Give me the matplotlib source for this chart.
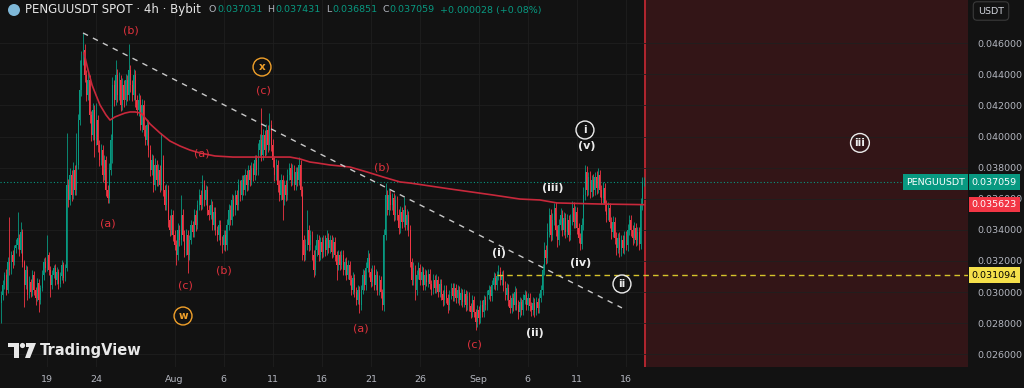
import numpy as np
import pandas as pd
import matplotlib
matplotlib.use('Agg')
import matplotlib.pyplot as plt
from matplotlib.transforms import blended_transform_factory
from matplotlib.patches import Polygon, Circle

# 4h candles, prices in 1e-5 USDT, open = previous close
first_open = 2930
closes = [
    2981, 3045, 3110, 3013, 3193, 3142, 3238, 3193, 3283, 3303,
    3348, 3270, 3386, 3193, 3045, 3142, 2981, 3065, 3000, 3110,
    3013, 2962, 3058, 2949, 3026, 3110, 3193, 3155, 3238, 3142,
    3045, 3110, 3155, 3078, 3129, 3052, 3103, 3174, 3091, 3155,
    3688, 3592, 3753, 3624, 3785, 3656, 3817, 4106, 4299, 4492, 4556,
    4396, 4267, 4364, 4139, 4010, 4171, 3978, 4106, 3946, 3849,
    3913, 3753, 3849, 3656, 3605, 3785, 3978, 4331, 4235, 4396,
    4267, 4364, 4203, 4331, 4235, 4364, 4267, 4428, 4331,
    4267, 4396, 4235, 4171, 4235, 4074, 4203, 4042, 3978, 4074,
    3913, 3785, 3849, 3688, 3817, 3720, 3785, 3688, 3849, 3656,
    3560, 3656, 3463, 3399, 3496, 3367, 3303, 3238, 3399, 3335,
    3496, 3367, 3270, 3367, 3238,
    3335, 3431, 3386, 3496, 3431, 3560, 3624, 3560, 3688, 3592,
    3656, 3528, 3496, 3560, 3431, 3515, 3399, 3367, 3431, 3335,
    3303, 3367, 3303, 3431, 3528, 3463, 3592, 3528, 3624, 3560,
    3688, 3624, 3720, 3656, 3753, 3688, 3785, 3720, 3798, 3753,
    3849, 3785, 3913, 3978, 3881, 4010,
    3913, 4042, 3946, 4074, 3946, 3849, 3753, 3817, 3688, 3624,
    3720, 3592, 3688, 3624, 3753, 3798, 3720, 3785, 3688, 3772,
    3720, 3817, 3656, 3335, 3238, 3303, 3399, 3303, 3367, 3238,
    3142, 3270, 3335, 3238, 3322, 3257, 3335, 3270, 3348, 3283,
    3335, 3257, 3322, 3238, 3174,
    3238, 3174, 3238, 3142, 3193, 3110, 3174, 3078, 3013, 3091,
    3000, 2949, 3013, 2917, 3013, 3110, 3045, 3155, 3219, 3129,
    3065, 3142, 3045, 3110, 3013, 3078, 3000, 2917, 3367, 3624,
    3528, 3624, 3560, 3605, 3496,
    3592, 3496, 3412, 3515, 3450, 3528, 3431, 3496, 3399, 3193,
    3078, 3155, 3013, 3110, 3155, 3078, 3129, 3045, 3110, 3065,
    3116, 3052, 3013, 3078, 3026, 3078, 3000, 3052, 2987, 2949,
    3013, 2962, 2917, 2981, 3026, 2975, 3026, 2962, 3013, 2949,
    2994, 2936, 2987, 2917, 2975, 2910, 2872, 2949, 2872, 2808,
    2885, 2833, 2917, 2872, 2949, 2917, 2981, 3013, 2975, 3045,
    3091, 3045, 3103, 3129, 3078, 3110, 3045, 2981, 3026, 2949,
    2898, 2962, 2917, 3000, 2917, 2872, 2936, 2885, 2949, 2981,
    2917, 2962, 2910, 2885, 2930, 2885, 2936, 2898, 2962, 3013,
    3142, 3270, 3219, 3386, 3496, 3367, 3463, 3541, 3399, 3335,
    3431, 3496, 3399, 3476, 3386, 3463, 3367, 3463, 3541, 3450,
    3515, 3412, 3348, 3309, 3431, 3624, 3772, 3656, 3740, 3643,
    3720, 3656, 3740, 3669, 3753, 3656, 3605, 3669, 3560, 3496,
    3541, 3450, 3386, 3450, 3348, 3283, 3348, 3270, 3335, 3283,
    3360, 3303, 3399, 3463, 3399, 3348, 3412, 3335, 3386, 3309,
    3560, 3703, 3706,
]
wick_up = [
    25, 30, 20, 40, 35, 290, 25, 30, 20, 35,
    167, 25, 64, 20, 15, 30, 25, 35, 20, 30,
    25, 20, 30, 25, 20, 30, 25, 35, 129, 20,
    25, 30, 20, 25, 30, 20, 25, 30, 20, 25,
    335, 40, 45, 35, 50, 30, 206, 40, 193, 60, 110,
    40, 35, 50, 30, 25, 45, 30, 110, 35, 30,
    40, 30, 35, 25, 30, 45, 40, 50, 35, 96,
    40, 50, 30, 45, 35, 40, 30, 167, 35,
    35, 40, 30, 35, 45, 30, 40, 30, 35, 40,
    30, 35, 40, 30, 45, 30, 40, 35, 174, 30,
    35, 40, 30, 35, 40, 30, 35, 30, 45, 30,
    128, 35, 30, 40, 30,
    30, 35, 25, 40, 30, 35, 40, 30, 65, 30,
    35, 25, 30, 40, 25, 35, 30, 25, 35, 30,
    25, 35, 30, 40, 35, 30, 40, 30, 35, 30,
    40, 30, 35, 30, 40, 30, 35, 30, 40, 30,
    35, 30, 45, 40, 206, 40,
    35, 40, 30, 77, 30, 35, 25, 40, 30, 35,
    40, 30, 35, 30, 40, 35, 30, 40, 30, 35,
    30, 51, 30, 25, 30, 35, 129, 30, 35, 25,
    30, 35, 40, 30, 35, 30, 35, 30, 51, 30,
    35, 30, 35, 30, 25,
    30, 25, 35, 30, 25, 30, 35, 25, 30, 35,
    25, 30, 35, 25, 30, 35, 30, 40, 51, 30,
    25, 35, 30, 35, 25, 30, 25, 20, 40, 77,
    35, 45, 30, 35, 30,
    30, 25, 35, 40, 30, 83, 30, 35, 25, 30,
    25, 35, 20, 30, 35, 25, 40, 30, 35, 30,
    35, 30, 25, 35, 30, 35, 25, 30, 35, 25,
    30, 35, 25, 30, 35, 30, 35, 25, 30, 25,
    30, 25, 30, 25, 30, 25, 20, 30, 25, 20,
    30, 25, 35, 30, 35, 25, 30, 35, 25, 35,
    40, 30, 35, 45, 30, 25, 30, 25, 35, 25,
    30, 35, 30, 40, 25, 30, 35, 25, 40, 30,
    25, 35, 30, 25, 35, 30, 35, 25, 30, 35,
    40, 50, 35, 60, 45, 40, 45, 32, 35, 30,
    40, 45, 30, 40, 35, 40, 30, 40, 45, 35,
    40, 30, 35, 30, 45, 50, 45, 40, 35, 40,
    35, 40, 35, 40, 45, 35, 30, 40, 30, 35,
    40, 30, 35, 40, 30, 35, 30, 35, 30, 35,
    30, 35, 40, 35, 30, 35, 40, 30, 35, 30,
    45, 40, 37,
]
wick_dn = [
    129, 30, 25, 35, 20, 30, 25, 40, 20, 30,
    25, 35, 20, 30, 141, 25, 30, 20, 35, 25,
    30, 45, 20, 77, 25, 20, 30, 25, 20, 30,
    77, 25, 20, 30, 25, 35, 20, 25, 30, 20,
    20, 45, 30, 40, 25, 35, 30, 25, 30, 40, 35,
    45, 40, 30, 50, 40, 35, 110, 30, 45, 40,
    35, 45, 30, 40, 32, 30, 35, 150, 40, 35,
    45, 30, 40, 35, 45, 30, 40, 35, 45,
    40, 35, 45, 30, 40, 35, 45, 40, 30, 35,
    45, 40, 35, 45, 30, 40, 35, 45, 30, 40,
    35, 30, 45, 40, 30, 40, 35, 64, 30, 40,
    35, 40, 45, 30, 113,
    30, 25, 35, 30, 40, 25, 30, 35, 25, 40,
    30, 35, 30, 25, 35, 30, 35, 40, 30, 35,
    52, 30, 40, 35, 30, 35, 30, 40, 30, 35,
    30, 40, 30, 35, 30, 40, 30, 35, 30, 40,
    30, 35, 30, 35, 40, 30,
    40, 30, 45, 35, 40, 45, 40, 30, 45, 40,
    35, 129, 30, 40, 35, 30, 40, 30, 35, 30,
    35, 30, 40, 129, 40, 30, 35, 40, 30, 35,
    45, 30, 35, 40, 30, 35, 30, 40, 30, 35,
    30, 35, 30, 40, 96,
    30, 35, 25, 30, 35, 30, 25, 35, 30, 25,
    35, 30, 25, 52, 30, 25, 35, 30, 25, 35,
    30, 25, 35, 30, 35, 30, 40, 32, 40, 30,
    35, 30, 35, 30, 40,
    35, 30, 40, 30, 35, 30, 35, 30, 40, 35,
    30, 35, 64, 30, 25, 35, 30, 35, 30, 25,
    30, 35, 30, 25, 35, 30, 35, 30, 35, 40,
    30, 35, 52, 30, 25, 35, 30, 35, 30, 35,
    30, 35, 30, 40, 30, 35, 40, 30, 35, 52,
    35, 40, 30, 35, 30, 35, 30, 25, 35, 30,
    25, 35, 30, 25, 35, 30, 40, 30, 35, 40,
    35, 30, 40, 30, 35, 45, 30, 35, 30, 25,
    35, 30, 35, 40, 30, 45, 30, 35, 30, 25,
    30, 35, 40, 30, 35, 40, 30, 35, 40, 45,
    35, 30, 40, 35, 40, 35, 40, 30, 35, 40,
    35, 40, 35, 40, 30, 35, 30, 40, 35, 40,
    35, 40, 35, 40, 35, 45, 40, 35, 40, 45,
    35, 40, 45, 35, 40, 45, 35, 45, 40, 35,
    40, 35, 40, 35, 40, 45, 35, 40, 35, 40,
    30, 35, 18,
]
assert len(closes) == len(wick_up) == len(wick_dn), (len(closes), len(wick_up), len(wick_dn))

# anchored average line (days since Jul 1, price)
ma_day = [21.77, 22.18, 22.59, 22.99, 23.40, 24.01, 24.42, 24.93, 25.44, 25.95,
          26.46, 27.0, 27.6, 28.50, 29.51, 30.53, 31.55, 32.57, 33.59, 35.12,
          36.95, 38.68, 40.72, 42.76, 43.78, 44.80, 45.51, 46.84, 48.87, 50.61,
          52.24, 53.97, 54.99, 59.06, 63.45, 66.20, 68.23, 69.97, 74.35, 78.83]
ma_val = [4537, 4428, 4331, 4267, 4203, 4139, 4106, 4126, 4139, 4151,
          4158, 4158, 4150, 4081, 4023, 3971, 3939, 3913, 3894, 3875,
          3868, 3868, 3868, 3868, 3856, 3836, 3830, 3817, 3804, 3772,
          3740, 3708, 3701, 3663, 3624, 3598, 3592, 3573, 3566, 3562]

trend_day = [21.67, 76.59]
trend_val = [0.04666, 0.02898]
last_price = 0.037059
ma_last = 0.035623
wave_i_level = 0.031094
wave_i_start = 63.85
future_start = 78.93

price_ticks = [0.026, 0.028, 0.030, 0.032, 0.034, 0.036, 0.038, 0.040, 0.042, 0.044, 0.046]
date_ticks = [18, 23, 31, 36, 41, 46, 51, 56, 62, 67, 72, 77]
date_labels = ['19', '24', 'Aug', '6', '11', '16', '21', '26', 'Sep', '6', '11', '16']

red_labels = [('(b)', 26.56, 0.04685), ('(a)', 24.22, 0.03438), ('(c)', 40.01, 0.04293),
              ('(a)', 33.79, 0.03888), ('(c)', 32.06, 0.03039), ('(b)', 36.04, 0.03136),
              ('(b)', 52.14, 0.03804), ('(a)', 50.00, 0.02763), ('(c)', 61.51, 0.02660)]
white_labels = [('(i)', 64.06, 0.03251), ('(ii)', 67.73, 0.02737), ('(iii)', 69.56, 0.03669),
                ('(iv)', 72.41, 0.03187), ('(v)', 73.02, 0.03939)]
white_circled = [('i', 72.82, 0.04042), ('ii', 76.59, 0.03052), ('iii', 100.84, 0.03959)]
orange_circled = [('x', 39.91, 0.04447), ('w', 31.86, 0.02846)]

BG = '#121212'
UP = '#089981'
DOWN = '#f23645'
AXTXT = '#b2b5be'

scale = 1e-5
c = np.array(closes) * scale
o = np.concatenate([[first_open], closes[:-1]]) * scale
hi = np.maximum(o, c) + np.array(wick_up) * scale
lo = np.minimum(o, c) - np.array(wick_dn) * scale
times = pd.date_range('2025-07-14 08:00', periods=len(closes), freq='4h')
x = ((times - pd.Timestamp('2025-07-01')) / pd.Timedelta('1D')).values
col = np.where(c >= o, UP, DOWN)

fig = plt.figure(figsize=(10.24, 3.88), dpi=100, facecolor=BG)
ax = fig.add_axes([0, 21 / 388, 968 / 1024, 367 / 388], facecolor=BG)
xmin, xmax = 13.21, 111.85
ax.set_xlim(xmin, xmax)
ax.set_ylim(0.02518, 0.04878)

ax.set_xticks(date_ticks)
ax.set_xticklabels(date_labels)
ax.set_yticks(price_ticks)
ax.yaxis.set_major_formatter(matplotlib.ticker.FormatStrFormatter('%.6f'))
ax.yaxis.tick_right()
ax.tick_params(axis='both', length=0, colors=AXTXT, labelsize=6.8)
ax.tick_params(axis='y', pad=6.5)
ax.tick_params(axis='x', pad=6)
ax.grid(color='#1f1f1f', lw=0.6, zorder=0)
for s in ax.spines.values():
    s.set_visible(False)

# future zone
ax.axvspan(future_start, xmax, color='#331517', zorder=0.5, lw=0)
ax.axvline(future_start, color='#b3262f', lw=1.4, zorder=1)

# candles
ax.vlines(x, lo, hi, colors=col, lw=0.6, zorder=2)
body = np.abs(c - o)
body = np.maximum(body, 0.00002)
ax.bar(x, body, bottom=np.minimum(o, c), width=0.095, color=col, lw=0, zorder=2)

# indicator + drawings
ax.plot(ma_day, np.array(ma_val) * scale, color='#c8283b', lw=1.2, zorder=3)
ax.plot(trend_day, trend_val, color='#c9c9c9', lw=1, ls=(0, (4, 4)), zorder=3)
ax.axhline(last_price, color=UP, lw=0.8, ls=(0, (1, 2)), zorder=1.5)
ax.hlines(wave_i_level, wave_i_start, xmax, colors='#d6c42c', lw=1, linestyles=(0, (4, 3)), zorder=3)

for t, dx, py in red_labels:
    ax.text(dx, py, t, color='#e0323d', fontsize=8, ha='center', va='center', zorder=4)
for t, dx, py in white_labels:
    ax.text(dx, py, t, color='#ececec', fontsize=8, ha='center', va='center', weight='bold', zorder=4)
for t, dx, py in white_circled:
    ax.text(dx, py, t, color='#ececec', fontsize=7.5, ha='center', va='center', weight='bold', zorder=4,
            bbox=dict(boxstyle='circle,pad=0.38', fc='none', ec='#ececec', lw=1))
for t, dx, py in orange_circled:
    ax.text(dx, py, t, color='#f0a02a', fontsize=7.5, ha='center', va='center', weight='bold', zorder=4,
            bbox=dict(boxstyle='circle,pad=0.38', fc='none', ec='#f0a02a', lw=1))

# price axis tags
tr = blended_transform_factory(ax.transAxes, ax.transData)
ax.text(1.004, last_price, f'{last_price:.6f}', transform=tr, color='white', fontsize=6.8,
        ha='left', va='center', clip_on=False, zorder=6,
        bbox=dict(boxstyle='square,pad=0.35', fc=UP, ec='none'))
ax.text(0.997, last_price, 'PENGUUSDT', transform=tr, color='white', fontsize=6.8,
        ha='right', va='center', clip_on=False, zorder=6,
        bbox=dict(boxstyle='square,pad=0.35', fc=UP, ec='none'))
ax.text(1.004, ma_last, f'{ma_last:.6f}', transform=tr, color='white', fontsize=6.8,
        ha='left', va='center', clip_on=False, zorder=6,
        bbox=dict(boxstyle='square,pad=0.35', fc=DOWN, ec='none'))
ax.text(1.004, wave_i_level, f'{wave_i_level:.6f}', transform=tr, color='black', fontsize=6.8,
        ha='left', va='center', clip_on=False, zorder=6,
        bbox=dict(boxstyle='square,pad=0.35', fc='#f5e04a', ec='none'))

fig.text(978 / 1024, 1 - 11 / 388, 'USDT', color='#d1d4dc', fontsize=6.8, ha='left', va='center',
         bbox=dict(boxstyle='round,pad=0.5,rounding_size=0.4', fc=BG, ec='#3a3a3a', lw=0.8))

# header, pieces laid out one after another
hy = 1 - 10 / 388
fig.patches.append(Circle((14, 378), 6, transform=None, fc='#7fb8d8', ec='none'))
renderer = fig.canvas.get_renderer()
parts = [('PENGUUSDT SPOT · 4h · Bybit', '#e6e6e6', 8.5, 8),
         ('O', '#b2b5be', 6.8, 1), ('0.037031', UP, 6.8, 5),
         ('H', '#b2b5be', 6.8, 1), ('0.037431', UP, 6.8, 5),
         ('L', '#b2b5be', 6.8, 1), ('0.036851', UP, 6.8, 5),
         ('C', '#b2b5be', 6.8, 1), ('0.037059', UP, 6.8, 5),
         ('+0.000028 (+0.08%)', UP, 6.8, 0)]
px = 25
for t, cc, fs, gap in parts:
    txt = fig.text(px / 1024, hy, t, color=cc, fontsize=fs, ha='left', va='center')
    px += txt.get_window_extent(renderer).width + gap

# watermark
fig.patches.append(Polygon([[8, 45], [19, 45], [19, 30], [14, 30], [14, 41], [8, 41]], closed=True,
                           transform=None, fc='#e8e8e8', ec='none'))
fig.patches.append(Circle((22.5, 42.5), 2.6, transform=None, fc='#e8e8e8', ec='none'))
fig.patches.append(Polygon([[26, 45], [36, 45], [30, 30], [25, 30], [29, 41], [26, 41]], closed=True,
                           transform=None, fc='#e8e8e8', ec='none'))
fig.text(40 / 1024, 1 - 351 / 388, 'TradingView', color='#e8e8e8', fontsize=10.5, weight='bold',
         ha='left', va='center')

fig.savefig('out.png', dpi=100, facecolor=BG)
